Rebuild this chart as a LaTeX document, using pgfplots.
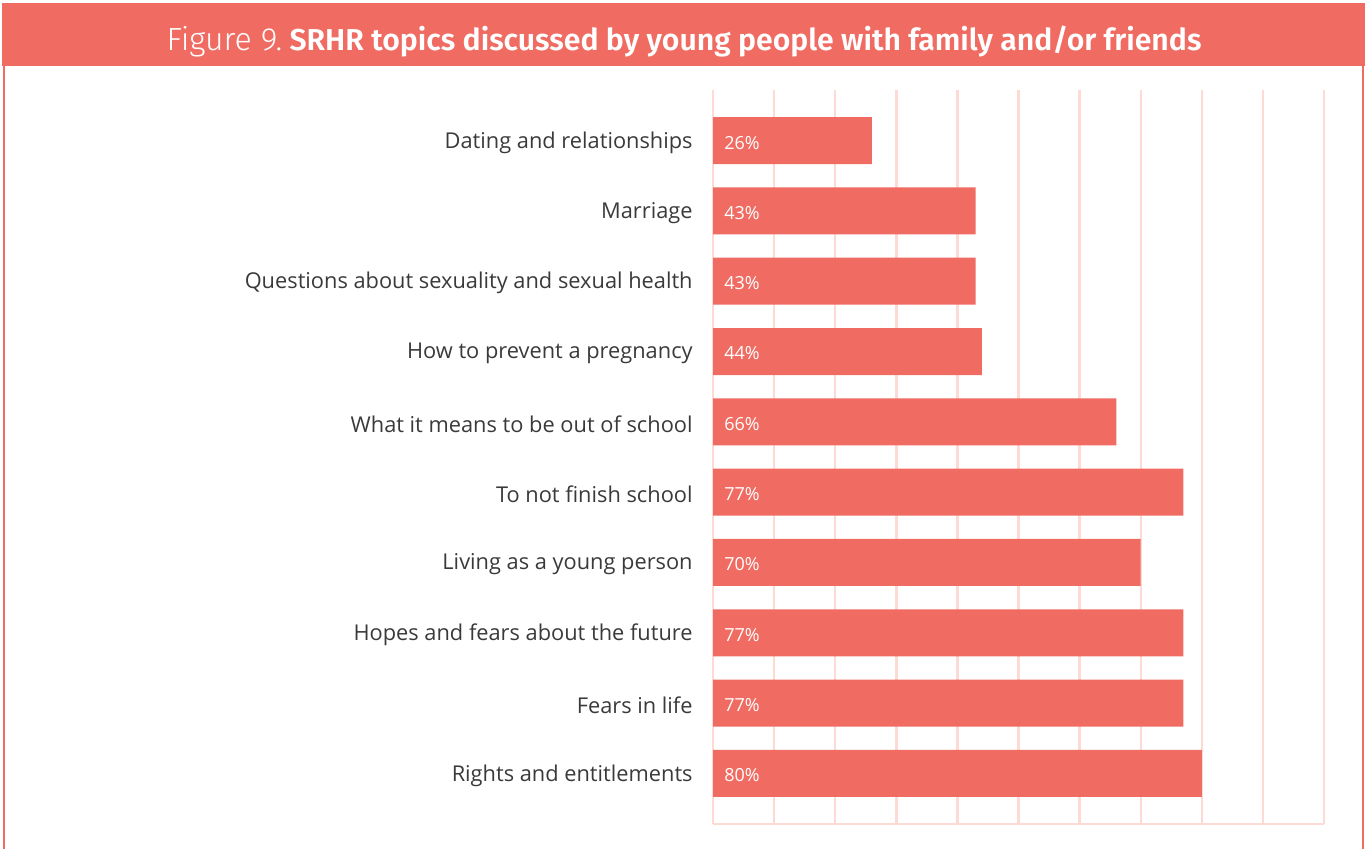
\documentclass[border=0pt]{standalone}
\usepackage{fontspec}
\setmainfont{Open Sans}
\newfontfamily\titlefont{Fira Sans}[UprightFont=* Light, BoldFont=* SemiBold]
\usepackage{pgfplots}
\usepackage{pgfplotstable}
\pgfplotsset{compat=1.18}
\definecolor{salmon}{HTML}{F06C62}
\definecolor{gridpink}{HTML}{FDDAD3}
\definecolor{labelgray}{HTML}{3A3A3A}

\pgfplotstableread{
idx val
0 26
1 43
2 43
3 44
4 66
5 77
6 70
7 77
8 77
9 80
}\datatable

\begin{document}
\begin{tikzpicture}
\path[use as bounding box] (0,0) rectangle (682.5pt,424pt);
\fill[salmon] (1pt,391pt) rectangle (682.5pt,422.5pt);
\draw[salmon, line width=1.2pt] (2pt,391pt) -- (2pt,-1pt);
\draw[salmon, line width=1.2pt] (681.5pt,391pt) -- (681.5pt,-1pt);
\node[anchor=base, text=white, inner sep=0] at (342pt,398.5pt) {\titlefont{\fontsize{16}{19}\selectfont Figure 9.} {\fontsize{15.1}{19}\selectfont\bfseries SRHR topics discussed by young people with family and/or friends}};
\begin{axis}[
  at={(356.5pt,12pt)}, anchor=south west,
  scale only axis, width=305.5pt, height=367pt,
  xmin=0, xmax=100, ymin=-0.72, ymax=9.72, y dir=reverse,
  xtick={0,10,...,100}, xticklabels={},
  xmajorgrids, grid style={gridpink, line width=1.2pt},
  ytick={0,...,9},
  yticklabels={Dating and relationships, Marriage, Questions about sexuality and sexual health, How to prevent a pregnancy, What it means to be out of school, To not finish school, Living as a young person, Hopes and fears about the future, Fears in life, Rights and entitlements},
  major tick length=0pt,
  axis x line*=bottom, axis y line*=left,
  x axis line style={gridpink, line width=1.2pt, -},
  y axis line style={draw=none},
  yticklabel style={font=\fontsize{10.9}{13}\selectfont, text=labelgray, inner sep=0pt, xshift=-10pt, yshift=-1pt},
  clip=false,
]
\addplot[xbar, bar width=23.5pt, fill=salmon, draw=none] table[x=val, y=idx] {\datatable};
\addplot[draw=none, mark=none,
  point meta=\thisrow{val},
  /pgf/number format/assume math mode=true,
  nodes near coords={\pgfmathprintnumber{\pgfplotspointmeta}\%},
  every node near coord/.append style={anchor=west, inner sep=0pt, xshift=5.5pt, yshift=-1pt, text=white, font=\fontsize{9}{11}\selectfont}]
  table[x expr=0, y=idx] {\datatable};
\end{axis}
\end{tikzpicture}
\end{document}
